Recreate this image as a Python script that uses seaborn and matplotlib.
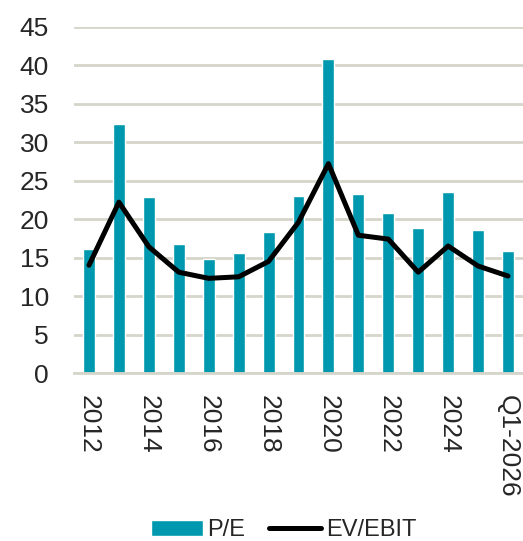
import numpy as np
import pandas as pd
import matplotlib
matplotlib.use("Agg")
import matplotlib.pyplot as plt
import seaborn as sns
from matplotlib.patches import Patch
from matplotlib.lines import Line2D

# --- data ---
periods = ["2012", "2013", "2014", "2015", "2016", "2017", "2018", "2019",
           "2020", "2021", "2022", "2023", "2024", "2025", "Q1-2026"]
pe_values = [16.1, 32.3, 22.9, 16.7, 14.8, 15.6, 18.3, 23.0,
             40.8, 23.2, 20.8, 18.9, 23.5, 18.6, 15.9]
ev_ebit_values = [14.0, 22.2, 16.4, 13.1, 12.3, 12.5, 14.5, 19.6,
                  27.2, 17.9, 17.4, 13.1, 16.5, 13.9, 12.6]
shown_labels = ["2012", "2014", "2016", "2018", "2020", "2022", "2024", "Q1-2026"]
y_ticks = [0, 5, 10, 15, 20, 25, 30, 35, 40, 45]

BAR_COLOR = "#0098AE"
GRID_COLOR = "#D6D5CA"

sns.set_theme(style="white")
plt.rcParams["font.family"] = ["Liberation Sans", "DejaVu Sans"]

df = pd.DataFrame({"period": periods, "pe": pe_values, "ev_ebit": ev_ebit_values})

fig = plt.figure(figsize=(5.23, 5.41), dpi=100)
ax = fig.add_axes([0.1415, 0.3105, 0.8585, 0.6402])

ax.set_axisbelow(True)
ax.grid(axis="y", color=GRID_COLOR, linewidth=2)

sns.barplot(data=df, x="period", y="pe", order=periods, color=BAR_COLOR,
            saturation=1, width=0.4, ax=ax)
sns.lineplot(x=np.arange(len(periods)), y=df["ev_ebit"], color="black",
             linewidth=3.6, ax=ax)

ax.set_ylim(0, 45)
ax.set_xlim(-0.5, len(periods) - 0.5)
ax.set_yticks(y_ticks)
ax.set_yticklabels([str(t) for t in y_ticks])
ax.set_xticks(range(len(periods)))
ax.set_xticklabels([p if p in shown_labels else "" for p in periods],
                   rotation=-90, va="top", ha="center")
ax.tick_params(axis="both", length=0, labelsize=19)
ax.tick_params(axis="x", pad=16)
ax.tick_params(axis="y", pad=18)
ax.set_xlabel("")
ax.set_ylabel("")
for side in ["top", "right", "left"]:
    ax.spines[side].set_visible(False)
ax.spines["bottom"].set_color(GRID_COLOR)
ax.spines["bottom"].set_linewidth(2)

handles = [Patch(facecolor=BAR_COLOR, label="P/E"),
           Line2D([0], [0], color="black", linewidth=3.6, label="EV/EBIT")]
fig.legend(handles=handles, loc="lower center", bbox_to_anchor=(0.542, -0.04),
           ncol=2, frameon=False, fontsize=17, handlelength=2.2,
           handletextpad=0.2, columnspacing=1.0)

fig.savefig("out.png", dpi=100)
